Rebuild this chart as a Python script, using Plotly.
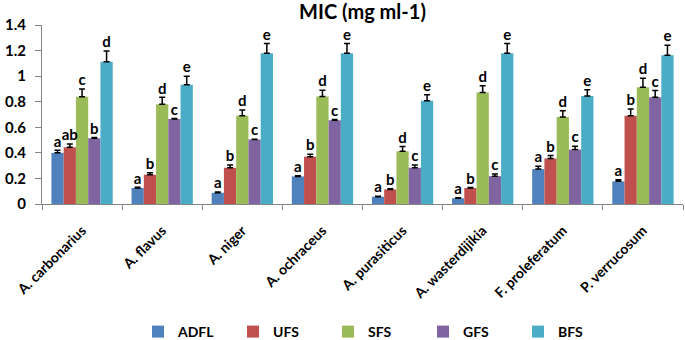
import plotly.graph_objects as go

categories = ["A. carbonarius", "A. flavus", "A. niger", "A. ochraceus",
              "A. purasiticus", "A. wasterdijikia", "F. proleferatum", "P. verrucosum"]
series_names = ["ADFL", "UFS", "SFS", "GFS", "BFS"]
colors = ["#4F81BD", "#C0504D", "#9BBB59", "#8064A2", "#4BACC6"]

ADFL = [0.40, 0.125, 0.088, 0.216, 0.057, 0.045, 0.273, 0.177]
UFS = [0.444, 0.229, 0.283, 0.370, 0.114, 0.125, 0.356, 0.690]
SFS = [0.839, 0.780, 0.690, 0.840, 0.413, 0.873, 0.680, 0.914]
GFS = [0.514, 0.665, 0.504, 0.655, 0.283, 0.218, 0.426, 0.834]
BFS = [1.112, 0.932, 1.180, 1.180, 0.808, 1.180, 0.844, 1.164]

ADFL_err = [0.02, 0.006, 0.006, 0.005, 0.004, 0.003, 0.023, 0.013]
UFS_err = [0.026, 0.015, 0.023, 0.02, 0.006, 0.005, 0.024, 0.053]
SFS_err = [0.06, 0.054, 0.045, 0.05, 0.037, 0.052, 0.05, 0.07]
GFS_err = [0.006, 0.003, 0.003, 0.005, 0.023, 0.016, 0.026, 0.054]
BFS_err = [0.085, 0.068, 0.075, 0.075, 0.047, 0.075, 0.05, 0.078]

ADFL_letters = ["a"] * 8
UFS_letters = ["ab", "b", "b", "b", "b", "b", "b", "b"]
SFS_letters = ["c", "d", "d", "d", "d", "d", "d", "d"]
GFS_letters = ["b", "c", "c", "c", "c", "c", "c", "c"]
BFS_letters = ["d", "e", "e", "e", "e", "e", "e", "e"]

values = [ADFL, UFS, SFS, GFS, BFS]
errors = [ADFL_err, UFS_err, SFS_err, GFS_err, BFS_err]
letters = [ADFL_letters, UFS_letters, SFS_letters, GFS_letters, BFS_letters]

FONT = "Lato"
w = 0.153
idx = list(range(len(categories)))

fig = go.Figure()
for j, name in enumerate(series_names):
    xs = [i + (j - 2) * w for i in idx]
    fig.add_trace(go.Bar(
        x=xs, y=values[j], width=w, name=name,
        marker=dict(color=colors[j], line=dict(width=0)),
        error_y=dict(type="data", array=errors[j], arrayminus=[0] * len(idx),
                     symmetric=False, color="black", thickness=1.5, width=3),
    ))
for j, name in enumerate(series_names):
    xs = [i + (j - 2) * w for i in idx]
    ys = [v + e for v, e in zip(values[j], errors[j])]
    fig.add_trace(go.Scatter(
        x=xs, y=ys, mode="text", text=letters[j], textposition="top center",
        textfont=dict(family=FONT, size=15, color="black", weight="bold"),
        showlegend=False, hoverinfo="skip", xaxis="x2",
    ))

fig.update_layout(
    width=685, height=340,
    margin=dict(l=42, r=2, t=25, b=136, autoexpand=False),
    paper_bgcolor="white", plot_bgcolor="white",
    barmode="overlay",
    font=dict(family=FONT, size=12, color="black"),
    title=dict(text="<b>MIC (mg ml-1)</b>", x=0.5, xref="paper", xanchor="center",
               y=1 - 12 / 340, yanchor="middle", yref="container",
               font=dict(family=FONT, size=20, color="black")),
    xaxis=dict(range=[-0.5, 7.5], tickvals=idx, automargin=False,
               ticktext=["<b>%s</b>" % c for c in categories],
               tickangle=-45, ticks="", showline=True, linecolor="#868686",
               linewidth=1, showgrid=False, zeroline=False, ticklabelstandoff=12,
               tickfont=dict(family=FONT, size=14, color="black")),
    xaxis2=dict(range=[-0.5, 7.5], overlaying="x", anchor="y", side="bottom",
                automargin=False,
                tickvals=[i - 0.5 for i in range(len(categories) + 1)],
                showticklabels=False, ticks="outside", ticklen=5,
                tickcolor="#868686", showline=False, showgrid=False, zeroline=False),
    yaxis=dict(range=[0, 1.4], dtick=0.2, tick0=0, showline=True, automargin=False,
               linecolor="#868686", linewidth=1, ticks="outside", ticklen=6,
               tickcolor="#868686", showgrid=False, zeroline=False,
               ticklabelstandoff=6,
               tickfont=dict(family=FONT, size=15, color="black", weight="bold")),
    legend=dict(orientation="h", x=138 / 685, xref="container", xanchor="left",
                y=8 / 340, yref="container", yanchor="middle",
                font=dict(family=FONT, size=14, color="black", weight="bold"),
                entrywidth=50, entrywidthmode="pixels", traceorder="normal"),
)

fig.write_html("out.html", config={"displayModeBar": False},
               post_script="document.body.style.margin='0';")
